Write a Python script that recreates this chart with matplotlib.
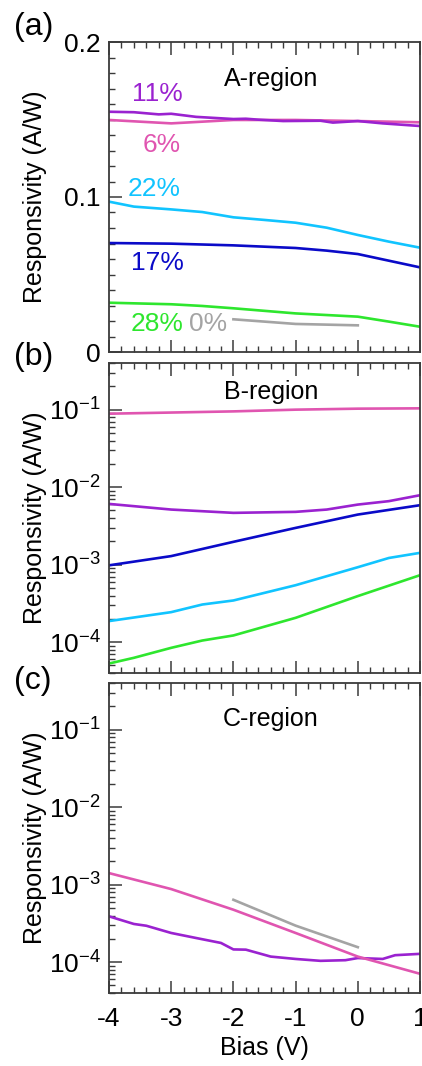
import matplotlib
matplotlib.use("Agg")
import matplotlib.pyplot as plt
from matplotlib.ticker import MultipleLocator, LogLocator, NullFormatter, FixedLocator
import numpy as np

plt.rcParams['font.family'] = ['Liberation Sans', 'DejaVu Sans']
plt.rcParams['mathtext.fontset'] = 'custom'
plt.rcParams['mathtext.rm'] = 'Liberation Sans'
plt.rcParams['mathtext.it'] = 'Liberation Sans'
plt.rcParams['mathtext.bf'] = 'Liberation Sans'
plt.rcParams['axes.unicode_minus'] = False

# ---------------- data ----------------
# Panel (a): A-region (linear)
a_p11_x = [-4, -3.6, -3.2, -3.0, -2.6, -2.0, -1.8, -1.6, -1.2, -0.6, -0.4, 0.0, 0.4, 1.0]
a_p11_y = [0.155, 0.1547, 0.1533, 0.1537, 0.1517, 0.1503, 0.1505, 0.1499, 0.149, 0.1492, 0.148, 0.149, 0.1475, 0.1458]
a_p6_x = [-4, -3, -2, -1, 0, 1]
a_p6_y = [0.1497, 0.1475, 0.1497, 0.1497, 0.149, 0.1482]
a_p22_x = [-4, -3.6, -3, -2.5, -2, -1.5, -1, -0.5, 0, 0.5, 1]
a_p22_y = [0.097, 0.0938, 0.092, 0.0903, 0.0869, 0.0852, 0.0834, 0.0802, 0.0755, 0.0712, 0.0673]
a_p17_x = [-4, -3, -2, -1, -0.5, 0, 0.5, 1]
a_p17_y = [0.0703, 0.0699, 0.0688, 0.0671, 0.0654, 0.0632, 0.0589, 0.0546]
a_p28_x = [-4, -3, -2.5, -2, -1, 0, 0.5, 1]
a_p28_y = [0.0318, 0.0308, 0.0297, 0.0282, 0.0249, 0.0228, 0.0196, 0.0163]
a_p0_x = [-2, -1, 0]
a_p0_y = [0.0211, 0.0181, 0.0172]

# Panel (b): B-region (log)
b_p6_x = [-4, -2, -1, 0, 1]
b_p6_y = [0.0887, 0.095, 0.100, 0.103, 0.104]
b_p11_x = [-4, -3, -2, -1, -0.5, 0, 0.5, 1]
b_p11_y = [0.00608, 0.00514, 0.00466, 0.0048, 0.00514, 0.00596, 0.0066, 0.00787]
b_p17_x = [-4, -3, -2, -1, 0, 1]
b_p17_y = [0.00098, 0.00129, 0.00197, 0.00298, 0.00443, 0.00585]
b_p22_x = [-4, -3, -2.5, -2, -1, 0, 0.5, 1]
b_p22_y = [1.87e-4, 2.44e-4, 3.06e-4, 3.45e-4, 5.43e-4, 9.27e-4, 1.22e-3, 1.42e-3]
b_p28_x = [-4, -3.6, -3, -2.5, -2, -1, 0, 1]
b_p28_y = [5.3e-5, 6.28e-5, 8.45e-5, 1.05e-4, 1.22e-4, 2.06e-4, 3.93e-4, 7.31e-4]

# Panel (c): C-region (log)
c_p6_x = [-4, -3, -2, -1, 0, 1]
c_p6_y = [1.41e-3, 8.77e-4, 4.75e-4, 2.38e-4, 1.18e-4, 7.08e-5]
c_p11_x = [-4, -3.6, -3.4, -3, -2.6, -2.2, -2, -1.8, -1.4, -1, -0.6, -0.2, 0, 0.4, 0.6, 1]
c_p11_y = [3.9e-4, 3.11e-4, 2.95e-4, 2.38e-4, 2.05e-4, 1.77e-4, 1.46e-4, 1.45e-4, 1.18e-4,
           1.1e-4, 1.04e-4, 1.06e-4, 1.13e-4, 1.1e-4, 1.23e-4, 1.28e-4]
c_p0_x = [-2, -1, 0]
c_p0_y = [6.38e-4, 2.96e-4, 1.56e-4]

xticks = [-4, -3, -2, -1, 0, 1]
panel_labels = ['(a)', '(b)', '(c)']
region_labels = ['A-region', 'B-region', 'C-region']

# colors
C11 = '#9a22d0'
C6 = '#e055b0'
C22 = '#11c4ff'
C17 = '#0a0ac8'
C28 = '#2ee62e'
C0 = '#a4a4a4'

W, H = 422, 1066
fig = plt.figure(figsize=(W / 100, H / 100), dpi=100)

left = 109 / W
width = (420 - 109) / W
tops = [42, 363, 683]
hpx = 310
axes = []
for t in tops:
    ax = fig.add_axes([left, 1 - (t + hpx) / H, width, hpx / H])
    axes.append(ax)

FS = 18
TFS = 19
spine_col = '#3a3a3a'
lw = 1.9
region_y = [0.88, 0.906, 0.884]
panel_y = [27, 357, 681]

for i, ax in enumerate(axes):
    ax.set_xlim(-4, 1)
    ax.xaxis.set_major_locator(FixedLocator(xticks))
    ax.xaxis.set_minor_locator(MultipleLocator(0.2))
    ax.tick_params(axis='x', which='both', direction='in', top=True, bottom=True,
                   color=spine_col, labelsize=TFS, pad=10)
    ax.tick_params(axis='y', which='both', direction='in', left=True, right=False,
                   color=spine_col, labelsize=TFS, pad=6)
    ax.tick_params(which='major', length=9, width=1.1)
    ax.tick_params(which='minor', length=4.5, width=1.0)
    for s in ax.spines.values():
        s.set_color(spine_col)
        s.set_linewidth(1.3)
    ax.set_ylabel('Responsivity (A/W)', fontsize=FS)
    ax.yaxis.set_label_coords(-0.20, 0.5)
    if i < 2:
        ax.tick_params(axis='x', labelbottom=False)
    ax.text(0.52, region_y[i], region_labels[i], transform=ax.transAxes,
            fontsize=FS, ha='center', va='center')
    fig.text(14 / W, 1 - panel_y[i] / H, panel_labels[i], fontsize=23,
             ha='left', va='center')

# panel (a)
ax = axes[0]
ax.plot(a_p6_x, a_p6_y, color=C6, lw=lw)
ax.plot(a_p11_x, a_p11_y, color=C11, lw=lw)
ax.plot(a_p22_x, a_p22_y, color=C22, lw=lw)
ax.plot(a_p17_x, a_p17_y, color=C17, lw=lw)
ax.plot(a_p28_x, a_p28_y, color=C28, lw=lw)
ax.plot(a_p0_x, a_p0_y, color=C0, lw=lw)
ax.set_ylim(0, 0.2)
ax.yaxis.set_major_locator(FixedLocator([0, 0.1, 0.2]))
ax.yaxis.set_major_formatter(matplotlib.ticker.FuncFormatter(lambda v, p: '0' if v == 0 else f'{v:.1f}'))
ax.yaxis.set_minor_locator(MultipleLocator(0.01))
pct_fs = 19
ax.text(-3.23, 0.1665, '11%', color=C11, fontsize=pct_fs, ha='center', va='center')
ax.text(-3.15, 0.1335, '6%', color=C6, fontsize=pct_fs, ha='center', va='center')
ax.text(-3.27, 0.1050, '22%', color=C22, fontsize=pct_fs, ha='center', va='center')
ax.text(-3.22, 0.0572, '17%', color=C17, fontsize=pct_fs, ha='center', va='center')
ax.text(-3.22, 0.0180, '28%', color=C28, fontsize=pct_fs, ha='center', va='center')
ax.text(-2.40, 0.0180, '0%', color=C0, fontsize=pct_fs, ha='center', va='center')

log_fmt = matplotlib.ticker.FuncFormatter(lambda v, p: r'$10^{%d}$' % int(round(np.log10(v))))

# panel (b)
ax = axes[1]
ax.set_yscale('log')
ax.plot(b_p6_x, b_p6_y, color=C6, lw=lw)
ax.plot(b_p11_x, b_p11_y, color=C11, lw=lw)
ax.plot(b_p17_x, b_p17_y, color=C17, lw=lw)
ax.plot(b_p22_x, b_p22_y, color=C22, lw=lw)
ax.plot(b_p28_x, b_p28_y, color=C28, lw=lw)

# panel (c)
ax = axes[2]
ax.set_yscale('log')
ax.plot(c_p11_x, c_p11_y, color=C11, lw=lw)
ax.plot(c_p6_x, c_p6_y, color=C6, lw=lw)
ax.plot(c_p0_x, c_p0_y, color=C0, lw=lw)
ax.set_xlabel('Bias (V)', fontsize=FS, labelpad=4)

for ax in axes[1:]:
    ax.set_ylim(4e-5, 4e-1)
    ax.yaxis.set_major_locator(FixedLocator([1e-4, 1e-3, 1e-2, 1e-1]))
    ax.yaxis.set_major_formatter(log_fmt)
    ax.yaxis.set_minor_locator(LogLocator(base=10, subs=np.arange(2, 10), numticks=20))
    ax.yaxis.set_minor_formatter(NullFormatter())

fig.savefig('out.png', dpi=100)
